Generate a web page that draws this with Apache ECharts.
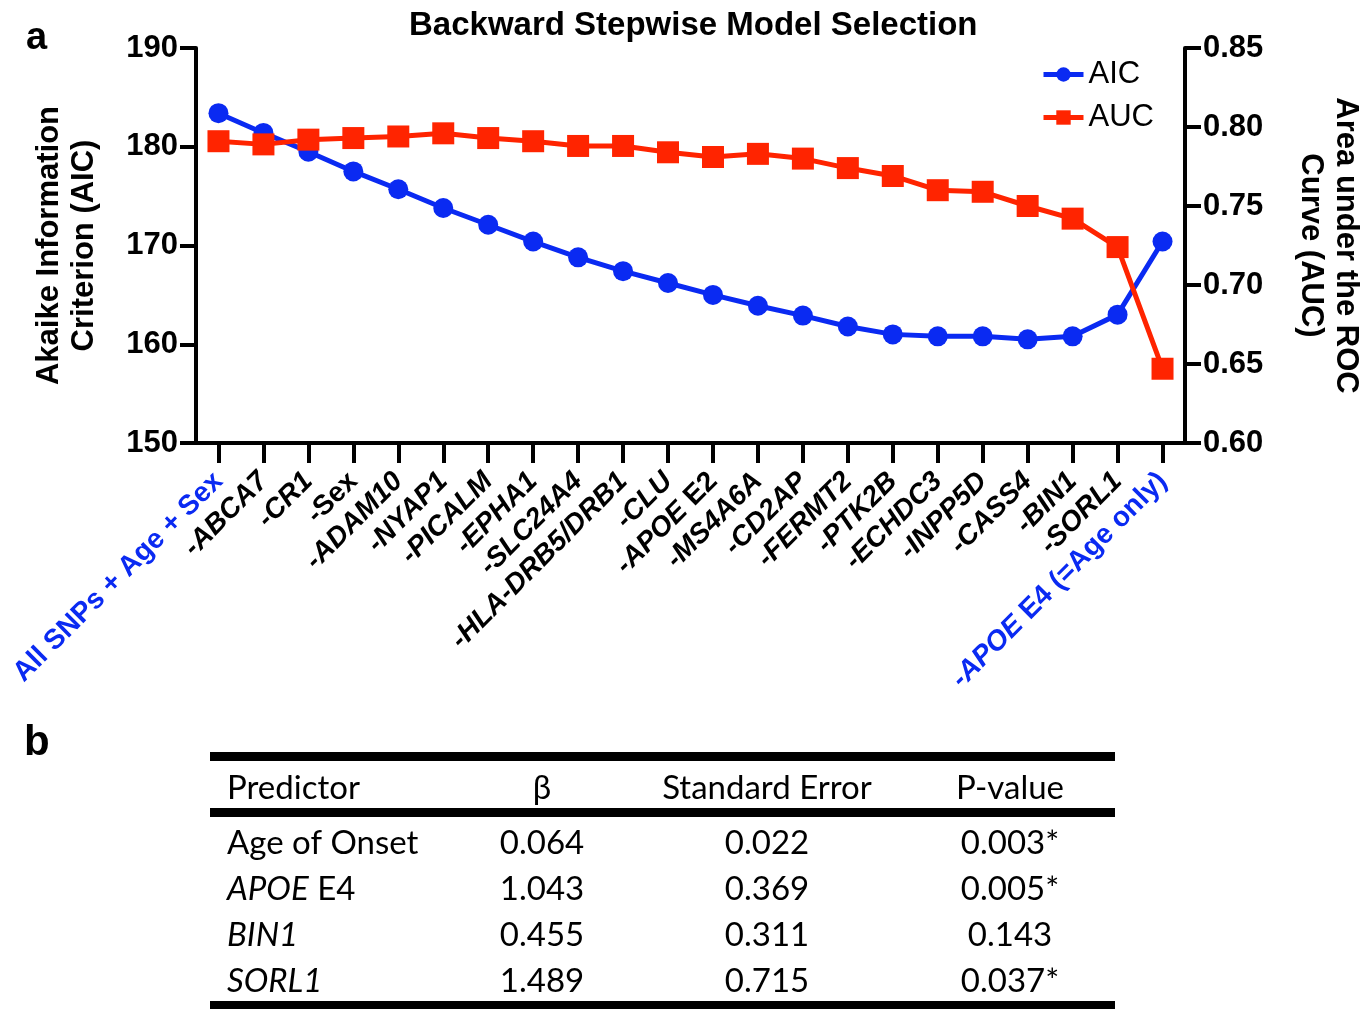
<!DOCTYPE html>
<html>
<head>
<meta charset="utf-8">
<script src="https://cdn.jsdelivr.net/npm/echarts@6/dist/echarts.min.js"></script>
<style>
  html, body { margin: 0; padding: 0; background: #fff; }
  #chart { width: 1371px; height: 1009px; }
</style>
</head>
<body>
<div id="chart"></div>
<script>
// panel a data
const categories = ['All SNPs + Age + Sex', '-ABCA7', '-CR1', '-Sex', '-ADAM10', '-NYAP1', '-PICALM',
  '-EPHA1', '-SLC24A4', '-HLA-DRB5/DRB1', '-CLU', '-APOE E2', '-MS4A6A', '-CD2AP', '-FERMT2',
  '-PTK2B', '-ECHDC3', '-INPP5D', '-CASS4', '-BIN1', '-SORL1', '-APOE E4 (=Age only)']
const aicValues = [183.4, 181.4, 179.5, 177.5, 175.7, 173.8, 172.1, 170.4, 168.8, 167.4, 166.2,
  165.0, 163.9, 162.9, 161.8, 161.0, 160.8, 160.8, 160.5, 160.8, 163.0, 170.4]
const aucValues = [0.791, 0.789, 0.792, 0.793, 0.794, 0.796, 0.793, 0.791, 0.788, 0.788, 0.784,
  0.781, 0.783, 0.780, 0.774, 0.769, 0.760, 0.759, 0.750, 0.742, 0.724, 0.647]

// panel b table
const tableHeader = ['Predictor', 'β', 'Standard Error', 'P-value']
const predictors = ['Age of Onset', '{i|APOE} E4', '{i|BIN1}', '{i|SORL1}']
const betas = ['0.064', '1.043', '0.455', '1.489']
const stdErrors = ['0.022', '0.369', '0.311', '0.715']
const pValues = ['0.003*', '0.005*', '0.143', '0.037*']

const blue = '#0a2af2'
const red = '#ff2400'
const font = 'Liberation Sans, Arial, sans-serif'
const tableFont = 'Lato, sans-serif'

const labelFormatter = (v) => {
  if (v === 'All SNPs + Age + Sex') return '{bn|' + v + '}'
  if (v === '-APOE E4 (=Age only)') return '{bi|-APOE}{bn| E4 (=Age only)}'
  if (v === '-APOE E2') return '{i|-APOE}{n| E2}'
  if (v === '-Sex') return '{n|' + v + '}'
  return '{i|' + v + '}'
}

const buildTable = () => {
  const els = []
  const x0 = 210, x1 = 1115
  const lines = [752, 808, 1001]
  lines.forEach(y => els.push({
    type: 'rect', shape: { x: x0, y: y, width: x1 - x0, height: 9 },
    style: { fill: '#000' }
  }))
  const colX = [227, 542, 767, 1010]
  const colAlign = ['left', 'center', 'center', 'center']
  const rowY = [843, 889, 935, 981]
  const txt = (x, y, s, align) => ({
    type: 'text', x: x, y: y,
    style: {
      text: s, fill: '#000', font: '33px ' + tableFont, align: align, verticalAlign: 'middle',
      rich: { i: { fontStyle: 'italic', fontSize: 33, fontFamily: tableFont, fill: '#000' } }
    }
  })
  tableHeader.forEach((h, j) => els.push(txt(colX[j], 788, h, colAlign[j])))
  predictors.forEach((p, r) => {
    els.push(txt(colX[0], rowY[r], p, 'left'))
    els.push(txt(colX[1], rowY[r], betas[r], 'center'))
    els.push(txt(colX[2], rowY[r], stdErrors[r], 'center'))
    els.push(txt(colX[3], rowY[r], pValues[r], 'center'))
  })
  return els
}

const initChart = () => {
  const myChart = echarts.init(document.getElementById('chart'))
  const axisLine = { show: true, lineStyle: { color: '#000', width: 4 } }
  const axisTick = { show: true, length: 16, lineStyle: { color: '#000', width: 4 } }
  const tickLabel = { color: '#000', fontFamily: font, fontWeight: 'bold', fontSize: 31 }
  const nameStyle = { color: '#000', fontFamily: font, fontWeight: 'bold', fontSize: 31, lineHeight: 35 }
  const lbl = { fontFamily: font, fontWeight: 'bold', fontSize: 28 }

  const option = {
    animation: false,
    backgroundColor: '#fff',
    title: {
      text: 'Backward Stepwise Model Selection',
      left: 404, top: 4,
      textStyle: { color: '#000', fontFamily: font, fontWeight: 'bold', fontSize: 33 }
    },
    legend: {
      orient: 'vertical', left: 1036, top: 54, itemGap: 12,
      itemWidth: 40, itemHeight: 18,
      lineStyle: { width: 5 },
      textStyle: { color: '#000', fontFamily: font, fontSize: 31 },
      data: ['AIC', 'AUC']
    },
    grid: { left: 196, right: 180, top: 48, bottom: 566 },
    xAxis: {
      type: 'category', data: categories, boundaryGap: true,
      axisLine: axisLine,
      axisTick: { show: true, alignWithLabel: true, length: 20, lineStyle: { color: '#000', width: 4 } },
      axisLabel: {
        interval: 0, rotate: 45, margin: 34,
        formatter: labelFormatter,
        rich: {
          i: Object.assign({ color: '#000', fontStyle: 'italic' }, lbl),
          n: Object.assign({ color: '#000' }, lbl),
          bi: Object.assign({ color: blue, fontStyle: 'italic' }, lbl),
          bn: Object.assign({ color: blue }, lbl)
        }
      },
      splitLine: { show: false }
    },
    yAxis: [
      {
        type: 'value', min: 150, max: 190, interval: 10, position: 'left',
        name: 'Akaike Information\nCriterion (AIC)', nameLocation: 'middle', nameGap: 94,
        nameTextStyle: nameStyle,
        axisLine: axisLine, axisTick: axisTick,
        axisLabel: Object.assign({ margin: 18 }, tickLabel),
        splitLine: { show: false }
      },
      {
        type: 'value', min: 0.6, max: 0.85, interval: 0.05, position: 'right',
        name: 'Area under the ROC\nCurve (AUC)', nameLocation: 'middle', nameGap: 108, nameRotate: -90,
        nameTextStyle: nameStyle,
        axisLine: axisLine, axisTick: axisTick,
        axisLabel: Object.assign({ margin: 18, formatter: v => v.toFixed(2) }, tickLabel),
        splitLine: { show: false }
      }
    ],
    series: [
      {
        name: 'AIC', type: 'line', yAxisIndex: 0, data: aicValues,
        symbol: 'circle', symbolSize: 20,
        lineStyle: { color: blue, width: 5 }, itemStyle: { color: blue }
      },
      {
        name: 'AUC', type: 'line', yAxisIndex: 1, data: aucValues,
        symbol: 'rect', symbolSize: 22,
        lineStyle: { color: red, width: 5 }, itemStyle: { color: red }
      }
    ],
    graphic: [
      { type: 'text', left: 26, top: 20, style: { text: 'a', font: 'bold 38px ' + font, fill: '#000' } },
      { type: 'text', left: 24, top: 722, style: { text: 'b', font: 'bold 42px ' + font, fill: '#000' } }
    ].concat(buildTable())
  }
  myChart.setOption(option)
}

window.addEventListener('load', () => {
  initChart()
})
</script>
</body>
</html>
